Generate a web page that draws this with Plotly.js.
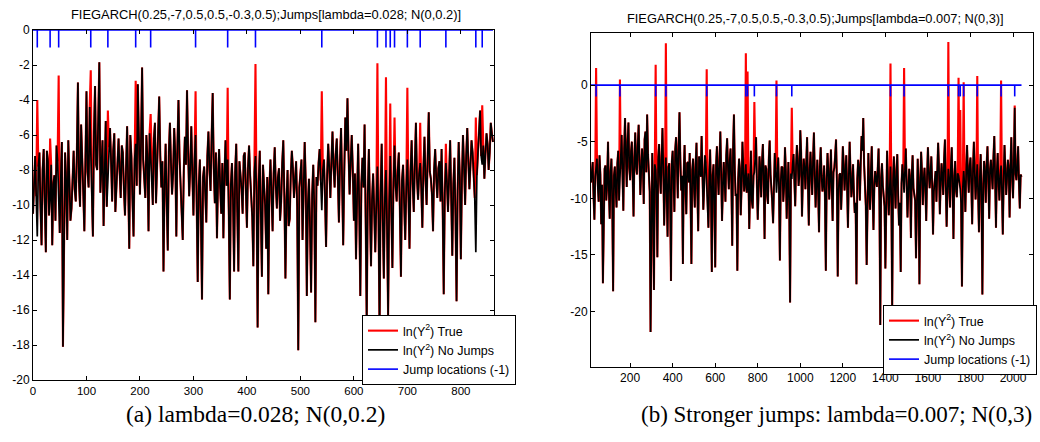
<!DOCTYPE html>
<html><head><meta charset="utf-8">
<script src="https://cdn.plot.ly/plotly-3.0.1.min.js"></script>
<style>html,body{margin:0;padding:0;background:#fff}#chart{width:1040px;height:442px}</style>
</head><body><div id="chart"></div>
<script>
// ---- Panel (a): ln(Y^2) without jumps ----
// observations at t = 0,4,...,860
const noJumpsA = [
 -10.5,-7.2,-11.8,-7.0,-12.3,-6.8,-12.7,-7.5,-9.6,-12.3,
 -8.3,-6.6,-9.4,-8.4,-18.1,-7.0,-12.0,-8.2,-10.2,-6.9,
 -9.8,-3.0,-10.1,-7.0,-11.5,-3.5,-9.0,-6.6,-11.8,-3.2,
 -8.0,-1.85,-7.6,-11.2,-5.2,-8.4,-5.6,-9.8,-5.9,-8.9,
 -6.2,-9.6,-7.0,-10.6,-5.5,-12.5,-7.2,-11.8,-6.5,-3.1,
 -9.4,-2.15,-8.8,-6.0,-11.5,-7.2,-10.0,-5.3,-8.1,-3.8,
 -9.0,-13.8,-6.5,-12.6,-5.3,-9.4,-5.6,-11.8,-4.0,-8.6,
 -12.0,-6.1,-3.45,-9.5,-5.5,-10.6,-6.0,-14.4,-7.4,-15.4,
 -7.8,-11.0,-5.8,-9.2,-3.6,-9.9,-11.9,-6.8,-10.5,-11.9,
 -6.3,-7.4,-15.4,-7.6,-13.8,-6.5,-13.8,-8.2,-10.5,-7.0,
 -11.3,-6.6,-9.8,-13.5,-7.2,-17.0,-6.9,-14.1,-8.8,-12.5,
 -15.1,-7.4,-11.5,-6.7,-10.2,-7.9,-9.8,-6.3,-14.2,-8.0,
 -10.8,-6.9,-9.6,-7.5,-18.3,-8.2,-12.0,-6.4,-15.2,-8.5,
 -15.0,-7.7,-16.7,-8.9,-6.8,-10.3,-7.4,-12.4,-6.5,-9.6,
 -5.8,-9.0,-6.2,-11.0,-5.6,-12.3,-5.0,-3.9,-9.4,-6.0,
 -10.9,-13.1,-6.5,-15.2,-7.3,-5.4,-16.8,-6.8,-13.5,-8.2,
 -12.7,-7.8,-17.2,-6.5,-14.2,-8.0,-16.3,-7.2,-13.6,-6.6,
 -9.8,-7.0,-14.1,-7.7,-12.0,-7.4,-12.5,-6.3,-10.4,-5.3,
 -9.7,-7.6,-11.3,-6.1,-10.0,-4.7,-8.5,-11.5,-6.8,-9.6,
 -7.5,-6.8,-15.1,-7.6,-10.4,-6.3,-12.9,-7.3,-15.5,-6.4,
 -13.1,-6.0,-10.0,-5.6,-9.1,-6.3,-8.2,-12.7,-7.0,-4.6,
 -7.7,-8.5,-5.9,-8.0,-5.3,-6.4
];
// observations at t = 2,6,...,858
const noJumpsAmid = [
 -8.4,-9.5,-7.8,-10.1,-8.0,-9.9,-6.9,-10.6,-7.7,-8.8,
 -10.9,-7.5,-11.6,-6.4,-9.7,-8.6,-6.3,-10.9,-7.9,-9.1,
 -7.1,-8.7,-5.4,-9.3,-6.0,-8.1,-4.4,-9.0,-5.8,-7.7,
 -5.1,-9.3,-6.3,-7.8,-10.1,-6.7,-7.5,-6.9,-10.4,-7.3,
 -8.1,-6.6,-9.1,-7.9,-8.8,-6.0,-9.7,-7.4,-8.9,-6.1,
 -6.4,-7.4,-9.6,-7.3,-5.9,-8.8,-6.2,-9.9,-5.5,-7.2,
 -7.5,-8.9,-9.8,-7.0,-7.6,-8.2,-7.1,-6.7,-7.3,-10.4,
 -8.0,-7.7,-6.8,-7.9,-8.3,-7.4,-9.8,-8.9,-10.8,-8.4,
 -9.3,-7.2,-8.0,-6.1,-7.9,-7.0,-8.5,-9.0,-7.6,-8.3,
 -8.9,-10.2,-8.8,-9.7,-8.1,-10.4,-7.5,-9.1,-7.2,-9.4,
 -7.9,-8.3,-10.7,-8.1,-9.4,-8.7,-10.5,-7.7,-10.0,-8.4,
 -9.0,-9.2,-8.2,-8.9,-8.4,-10.9,-7.6,-9.5,-9.8,-11.2,
 -8.3,-7.9,-8.6,-10.1,-9.0,-7.4,-9.5,-8.7,-10.0,-11.3,
 -9.4,-10.2,-8.4,-7.6,-8.6,-8.0,-9.5,-8.3,-7.9,-7.5,
 -7.8,-7.1,-8.4,-7.5,-8.6,-8.1,-6.9,-7.0,-7.6,-8.0,
 -8.2,-9.5,-10.1,-8.8,-9.0,-10.7,-9.4,-10.1,-9.7,-10.3,
 -9.9,-10.5,-9.3,-10.8,-9.6,-11.2,-9.9,-10.4,-8.7,-8.9,
 -8.0,-10.2,-8.6,-9.9,-9.0,-9.4,-8.1,-8.8,-7.6,-8.5,
 -8.2,-9.0,-7.9,-8.6,-7.3,-8.1,-9.4,-8.0,-8.5,-7.9,
 -9.8,-10.1,-9.3,-8.7,-8.4,-9.6,-8.8,-10.6,-9.2,-8.3,
 -8.6,-7.8,-7.2,-7.5,-7.7,-7.0,-9.6,-8.3,-6.1,-7.2,
 -6.6,-7.1,-6.5,-7.0,-5.9
];
const startA = 0, stepA = 2;
const jumpTimesA = [8,32,48,108,140,192,220,304,364,416,540,644,660,668,676,700,724,772,828,840];
const jumpValsA  = [-4.0,-6.2,-2.6,-2.3,-4.6,-2.9,-4.8,-3.5,-3.3,-1.95,-3.5,-1.9,-2.7,-4.2,-5.0,-3.3,-5.3,-6.5,-5.0,-4.3];
const yTicksA = [0,-2,-4,-6,-8,-10,-12,-14,-16,-18,-20];
const yTickTextA = ['0','-2','-4','-6','-8','-10','-12','-14','-16','-18','-20'];
const xTicksA = [0,100,200,300,400,500,600,700,800];

// ---- Panel (b) ----
// observations at t = 16,24,...,2040
const noJumpsB = [
 -8.6,-6.8,-11.9,-7.0,-9.0,-6.2,-12.3,-17.5,-7.4,-10.2,
 -5.0,-11.8,-6.5,-18.2,-7.2,-10.8,-5.8,-8.3,-4.4,-11.1,
 -2.9,-9.0,-3.3,-8.4,-5.0,-11.6,-4.2,-7.9,-3.5,-9.7,
 -5.6,-10.5,-4.1,-2.6,-8.8,-21.8,-6.0,-18.1,-7.5,-15.2,
 -5.2,-9.6,-3.8,-12.4,-6.4,-13.4,-6.9,-17.3,-5.8,-11.2,
 -4.6,-10.0,-2.4,-9.3,-15.8,-5.3,-11.4,-6.8,-6.0,-15.8,
 -6.5,-10.8,-5.1,-12.9,-7.8,-4.5,-11.0,-6.2,-8.6,-12.6,
 -5.7,-16.5,-7.0,-16.1,-5.4,-9.7,-4.1,-12.0,-6.8,-10.3,
 -4.7,-9.2,-5.6,-14.2,-2.6,-9.8,-16.4,-6.5,-11.5,-5.0,
 -9.4,-7.0,-8.2,-12.7,-5.8,-10.9,-7.7,-4.6,-11.9,-6.3,
 -9.9,-5.2,-13.6,-7.4,-10.5,-4.9,-8.8,-12.2,-6.0,-9.5,
 -6.4,-15.5,-7.2,-10.3,-5.5,-11.8,-6.8,-19.2,-8.3,-6.1,
 -10.7,-5.3,-8.9,-4.0,-11.6,-6.5,-9.2,-4.6,-12.4,-5.9,
 -9.7,-4.2,-10.8,-6.6,-13.0,-5.5,-9.4,-7.1,-16.4,-6.0,
 -10.1,-5.7,-12.0,-7.3,-4.8,-16.9,-7.9,-11.0,-5.4,-9.3,
 -6.2,-12.6,-5.0,-9.9,-7.0,-11.3,-17.6,-6.6,-10.2,-4.5,
 -2.9,-9.6,-15.9,-6.0,-11.0,-5.4,-12.8,-7.6,-9.0,-5.6,
 -21.2,-6.9,-10.4,-16.2,-5.8,-11.5,-7.2,-19.7,-6.3,-10.9,
 -6.1,-12.4,-16.5,-7.0,-9.5,-5.6,-11.7,-7.4,-13.5,-6.2,
 -9.8,-15.3,-6.5,-17.6,-5.9,-10.6,-7.3,-12.0,-5.5,-9.1,
 -6.3,-13.2,-7.8,-10.3,-5.1,-11.4,-6.9,-9.7,-4.8,-12.5,
 -7.4,-10.8,-5.5,-13.6,-6.7,-9.9,-8.0,-9.2,-17.8,-7.6,
 -11.2,-5.3,-9.5,-6.4,-12.3,-5.0,-10.1,-7.0,-13.0,-6.1,
 -18.5,-6.7,-10.4,-5.4,-11.8,-6.6,-9.2,-4.5,-12.6,-6.0,
 -10.2,-7.1,-13.2,-5.3,-9.7,-6.6,-11.7,-4.6,-10.0,-2.0,
 -8.4,-5.4,-10.9,-8.1
];
// observations at t = 20,28,...,2036
const noJumpsBmid = [
 -7.4,-9.8,-8.1,-6.5,-10.3,-7.9,-8.8,-11.0,-7.1,-8.5,
 -9.3,-7.7,-10.4,-8.0,-9.1,-6.9,-10.2,-7.4,-7.9,-5.6,
 -6.2,-5.1,-7.3,-5.9,-8.0,-6.4,-7.2,-5.3,-6.8,-7.5,
 -6.9,-4.8,-7.7,-6.1,-9.4,-8.2,-10.1,-7.0,-9.3,-6.6,
 -8.1,-6.4,-7.5,-8.8,-9.6,-7.3,-10.0,-6.8,-8.4,-5.7,
 -7.1,-5.4,-6.6,-8.0,-7.7,-9.1,-6.9,-8.6,-9.9,-7.5,
 -8.9,-7.0,-9.4,-6.3,-8.1,-7.2,-9.0,-6.9,-9.8,-8.2,
 -9.5,-8.0,-10.6,-7.1,-8.0,-6.7,-7.8,-9.1,-8.4,-6.2,
 -7.3,-6.8,-8.7,-5.6,-7.5,-9.6,-8.3,-7.4,-9.0,-7.2,
 -8.6,-9.5,-7.8,-9.1,-10.2,-8.0,-6.4,-8.8,-9.2,-7.6,
 -6.8,-8.4,-7.1,-9.7,-6.5,-7.9,-10.3,-8.5,-7.4,-8.1,
 -9.2,-8.6,-7.3,-8.9,-7.6,-9.4,-10.5,-7.8,-7.0,-8.4,
 -7.2,-6.6,-7.9,-6.0,-8.3,-7.4,-6.8,-8.7,-7.5,-8.0,
 -6.5,-7.9,-8.6,-9.4,-7.2,-8.0,-8.8,-9.9,-8.3,-7.6,
 -8.2,-9.0,-7.7,-6.2,-8.5,-9.4,-7.8,-8.6,-7.0,-7.9,
 -9.0,-8.1,-7.6,-8.9,-9.6,-10.4,-8.3,-7.4,-6.9,-5.8,
 -7.0,-10.6,-8.4,-9.1,-7.6,-9.8,-8.9,-8.3,-7.4,-10.1,
 -8.2,-8.9,-10.7,-7.7,-8.8,-9.4,-10.0,-8.5,-8.9,-7.6,
 -9.7,-10.4,-8.7,-8.1,-7.5,-8.8,-9.3,-8.4,-8.0,-9.1,
 -10.2,-9.5,-8.6,-9.0,-7.7,-8.4,-9.2,-8.1,-7.6,-7.9,
 -8.8,-9.4,-7.6,-8.0,-7.3,-8.6,-8.2,-6.6,-8.9,-9.3,
 -8.5,-7.2,-9.0,-8.3,-9.2,-7.8,-8.6,-10.4,-9.1,-8.8,
 -7.6,-7.9,-7.2,-8.8,-7.4,-7.7,-8.5,-9.6,-8.2,-10.0,
 -9.1,-7.8,-7.0,-8.4,-7.5,-7.9,-6.4,-8.3,-7.7,-8.6,
 -8.0,-9.3,-8.5,-7.3,-8.2,-7.5,-7.2,-8.1,-6.9,-7.8,
 -7.1,-8.6,-7.9
];
const startB = 16, stepB = 4;
const jumpTimesB = [40,152,320,368,560,744,752,784,888,960,1424,1488,1696,1744,1752,1768,1832,1944,2008];
const jumpValsB  = [1.5,0.5,1.8,3.7,1.4,2.8,1.2,-1.5,0.4,-2.0,1.9,1.5,3.8,0.65,-2.2,0.26,0.8,0.4,-1.8];
const yTicksB = [-20,-15,-10,-5,0];
const yTickTextB = ['-20','-15','-10','-5','0'];
const xTicksB = [200,400,600,800,1000,1200,1400,1600,1800,2000];

const seriesNames = ['ln(Y<sup>2</sup>) True','ln(Y<sup>2</sup>) No Jumps','Jump locations (-1)'];
const titleA = 'FIEGARCH(0.25,-7,0.5,0.5,-0.3,0.5);Jumps[lambda=0.028; N(0,0.2)]';
const titleB = 'FIEGARCH(0.25,-7,0.5,0.5,-0.3,0.5);Jumps[lambda=0.007; N(0,3)]';
const captionA = '(a) lambda=0.028; N(0,0.2)';
const captionB = '(b) Stronger jumps: lambda=0.007; N(0,3)';

// ---- build series ----
function build(evenVals, midVals, t0, step, jt, jv){
  const black = [];
  evenVals.forEach((v,i)=>{ black.push(v); if(i < midVals.length) black.push(midVals[i]); });
  const t = black.map((v,i)=> t0 + i*step);
  const red = black.slice();
  jt.forEach((tt,k)=>{ const i = t.indexOf(tt); if(i>=0){ red[i] = jv[k]; } });
  // jump indicator: flat at 0 with a drop to -1 at each jump time
  const bx = [t[0], t[t.length-1], null], by = [0, 0, null];
  jt.forEach(tt=>{ bx.push(tt, tt, null); by.push(0, -1, null); });
  return {t, red, black, bx, by};
}
const A = build(noJumpsA, noJumpsAmid, startA, stepA, jumpTimesA, jumpValsA);
const B = build(noJumpsB, noJumpsBmid, startB, stepB, jumpTimesB, jumpValsB);

const FONT = 'Liberation Sans, Arial, sans-serif';
function traces(S, xa, ya, lg){
  return [
    {x:S.t, y:S.red, type:'scatter', mode:'lines', name:seriesNames[0], xaxis:xa, yaxis:ya, legend:lg, line:{color:'#ff0000', width:2.1}},
    {x:S.t, y:S.black, type:'scatter', mode:'lines', name:seriesNames[1], xaxis:xa, yaxis:ya, legend:lg, line:{color:'#000000', width:1.7}},
    {x:S.bx, y:S.by, type:'scatter', mode:'lines', name:seriesNames[2], xaxis:xa, yaxis:ya, legend:lg, connectgaps:false, line:{color:'#0000ff', width:1.6}}
  ];
}
const data = traces(A,'x','y','legend').concat(traces(B,'x2','y2','legend2'));

const axBase = {showline:true, mirror:'ticks', linecolor:'#000', linewidth:1, ticks:'inside', ticklen:4, tickcolor:'#000',
  showgrid:false, zeroline:false, tickfont:{family:FONT, size:12, color:'#000'}};
const legBase = {xanchor:'left', yanchor:'top', bordercolor:'#000', borderwidth:1, bgcolor:'#fff',
  font:{family:FONT, size:12.5, color:'#000'}, itemwidth:30, tracegroupgap:0};

const layout = {
  width:1040, height:442, margin:{l:0,r:0,t:0,b:0}, paper_bgcolor:'#fff', plot_bgcolor:'#fff', showlegend:true,
  xaxis: Object.assign({}, axBase, {domain:[33/1040, 494/1040], range:[0,862], tickvals:xTicksA, anchor:'y', tickfont:{family:FONT,size:11.5,color:'#000'}}),
  yaxis: Object.assign({}, axBase, {domain:[1-380/442, 1-30/442], range:[-20,0], tickvals:yTicksA, ticktext:yTickTextA, anchor:'x'}),
  xaxis2: Object.assign({}, axBase, {domain:[591/1040, 1033/1040], range:[16,2094], tickvals:xTicksB, anchor:'y2'}),
  yaxis2: Object.assign({}, axBase, {domain:[1-367/442, 1-33/442], range:[-24.9,4.6], tickvals:yTicksB, ticktext:yTickTextB, anchor:'x2'}),
  legend: Object.assign({}, legBase, {x:362/1040, y:1-315/442}),
  legend2: Object.assign({}, legBase, {x:883/1040, y:1-305/442}),
  annotations:[
    {text:titleA, xref:'paper', yref:'paper', x:266/1040, y:1-15/442, xanchor:'center', yanchor:'middle', showarrow:false, font:{family:FONT, size:12.9, color:'#000'}},
    {text:titleB, xref:'paper', yref:'paper', x:815/1040, y:1-19/442, xanchor:'center', yanchor:'middle', showarrow:false, font:{family:FONT, size:12.8, color:'#000'}},
    {text:captionA, xref:'paper', yref:'paper', x:255/1040, y:1-414/442, xanchor:'center', yanchor:'middle', showarrow:false, font:{family:'Liberation Serif, Times New Roman, serif', size:23.5, color:'#000'}},
    {text:captionB, xref:'paper', yref:'paper', x:836/1040, y:1-414/442, xanchor:'center', yanchor:'middle', showarrow:false, font:{family:'Liberation Serif, Times New Roman, serif', size:23, color:'#000'}}
  ]
};
Plotly.newPlot('chart', data, layout, {displayModeBar:false, staticPlot:true});
</script>
</body></html>
